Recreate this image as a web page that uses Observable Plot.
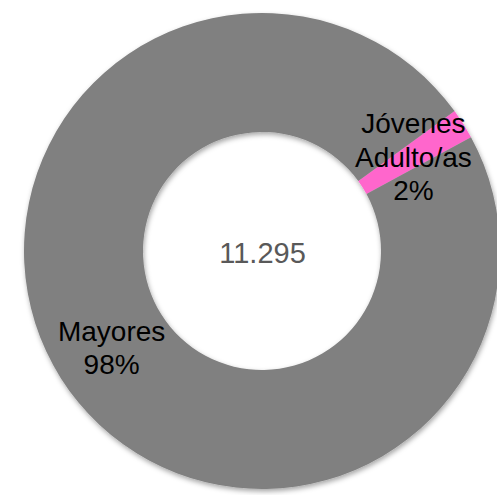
<!DOCTYPE html>
<html><head><meta charset="utf-8">
<script src="https://cdn.jsdelivr.net/npm/d3@7"></script>
<script src="https://cdn.jsdelivr.net/npm/@observablehq/plot@0.6"></script>
<style>body{margin:0;background:#fff;overflow:hidden}</style>
</head><body><div id="chart"></div>
<script>
const categories = ["Jóvenes\nAdulto/as", "Mayores"];
const values = [233, 11062];
const percents = ["2%", "98%"];
const colors = ["#FF66CC", "#808080"];
const totalLabel = "11.295";
const startDeg = 54;

const rows = categories.map((c, i) => ({category: c, value: values[i], label: c + "\n" + percents[i], color: colors[i]}));
const a0 = startDeg * Math.PI / 180;
const arcs = d3.pie().sort(null).value(d => d.value).startAngle(a0).endAngle(a0 + 2 * Math.PI)(rows);
const unitArc = d3.arc().innerRadius(0.5).outerRadius(1);
arcs.forEach(a => { const [px, py] = unitArc.centroid(a); a.cx = px; a.cy = -py; a.label = a.data.label; });

function donut(index, scales) {
  const x = scales.x, y = scales.y;
  const rOuter = x(1) - x(0), rInner = x(0.5) - x(0);
  const arc = d3.arc().innerRadius(rInner).outerRadius(rOuter);
  const root = d3.create("svg:g");
  const f = root.append("defs").append("filter").attr("id", "shadow")
    .attr("x", "-10%").attr("y", "-10%").attr("width", "120%").attr("height", "120%");
  f.append("feDropShadow").attr("dx", 1).attr("dy", 2.5).attr("stdDeviation", 2.5)
    .attr("flood-color", "#000").attr("flood-opacity", 0.35);
  const g = root.append("g").attr("transform", `translate(${x(0)},${y(0)})`).attr("filter", "url(#shadow)");
  g.selectAll("path").data(arcs).join("path").attr("d", arc).attr("fill", d => d.data.color);
  return root.node();
}

const chart = Plot.plot({
  width: 497, height: 495, margin: 0,
  style: {background: "#fff", fontFamily: "'Liberation Sans', Arial, sans-serif"},
  x: {domain: [-1, 1], range: [24, 500], axis: null},
  y: {domain: [-1, 1], range: [489, 13], axis: null},
  marks: [
    donut,
    Plot.text(arcs, {x: "cx", y: "cy", text: "label", fontSize: 28, lineHeight: 1.2, fill: "#000",
      fontFamily: "'Liberation Sans', Arial, sans-serif"}),
    Plot.text([totalLabel], {x: () => 0, y: () => 0, text: d => d, fontSize: 29, dy: 2, fill: "#595959",
      fontFamily: "'Liberation Sans', Arial, sans-serif"})
  ]
});
document.getElementById("chart").appendChild(chart);
</script></body></html>
